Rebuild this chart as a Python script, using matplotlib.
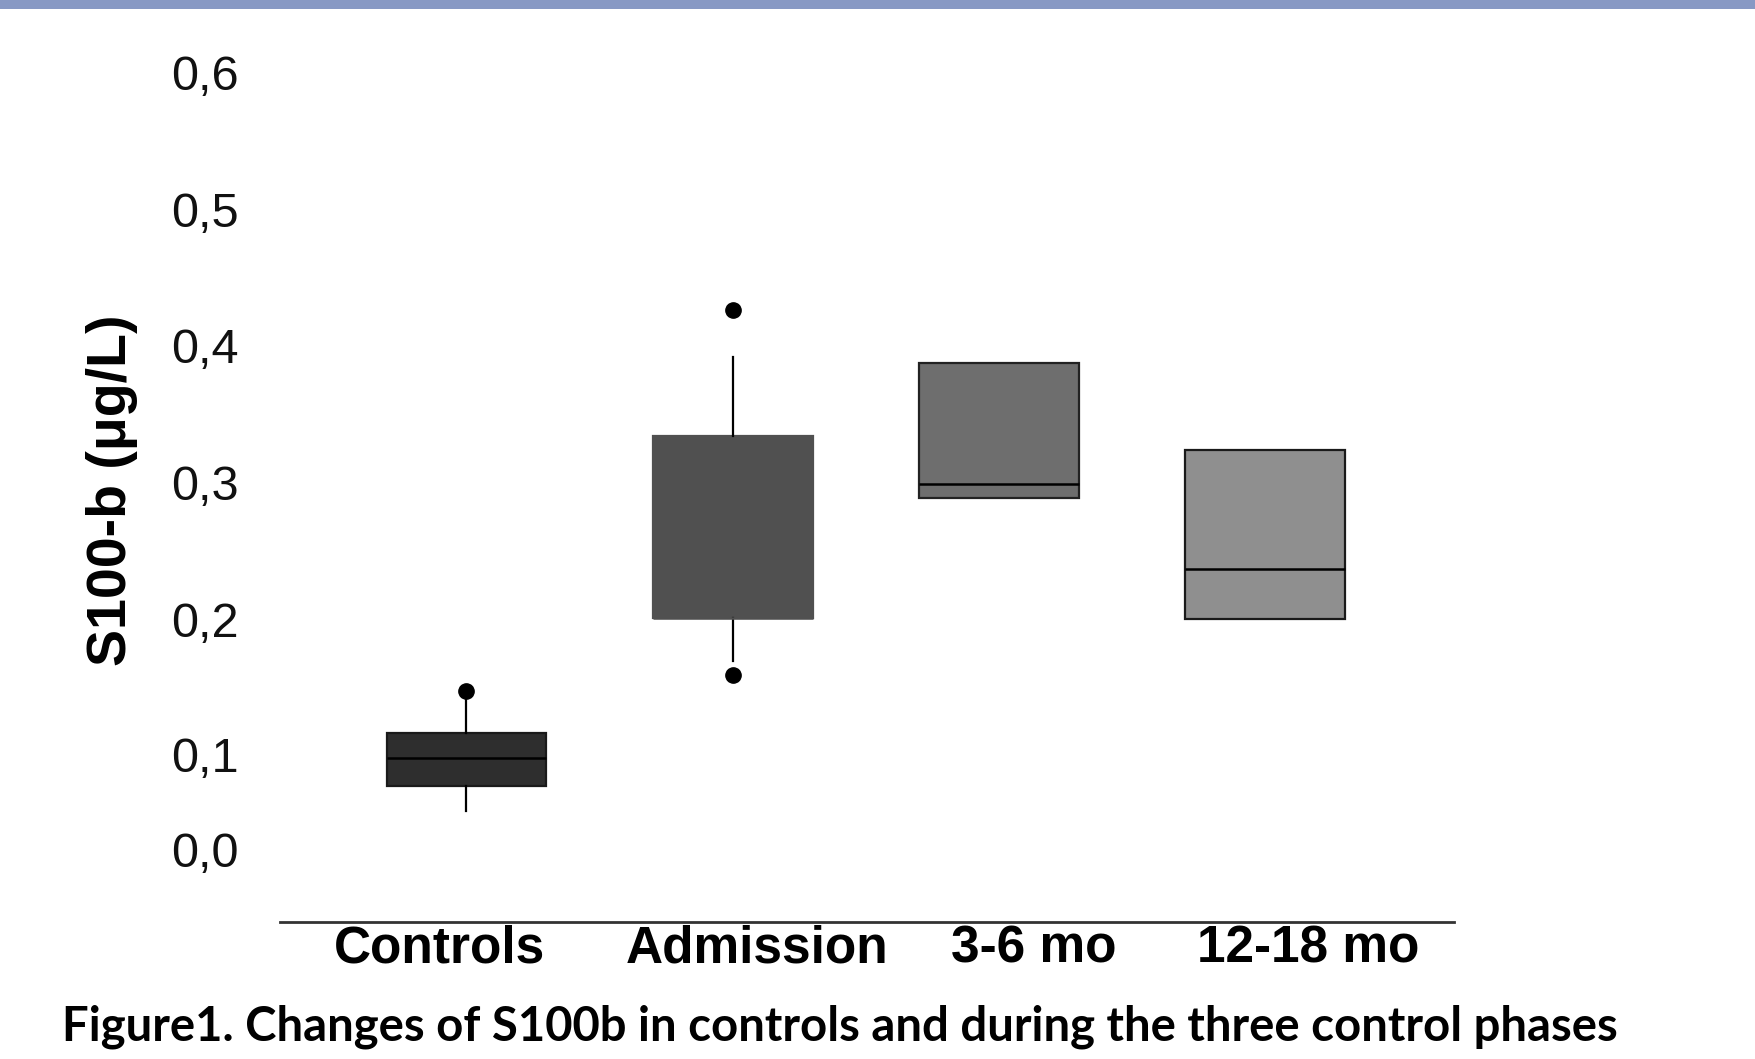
import matplotlib
matplotlib.use("Agg")
import matplotlib.pyplot as plt
from matplotlib.patches import Rectangle

# values (S100-b, ug/L)
groups = ["Controls", "Admission", "3-6 mo", "12-18 mo"]
q1 = [0.077, 0.201, 0.290, 0.200]
med = [0.0975, 0.201, 0.300, 0.237]
q3 = [0.116, 0.3355, 0.390, 0.3256]
whislo = [0.058, 0.169, 0.290, 0.200]
whishi = [0.143, 0.394, 0.390, 0.3256]
outliers = [[0.147], [0.429, 0.159], [], []]

# the original tick labels are not placed quite on the data scale
ytick_vals = [0.03, 0.1, 0.2, 0.3015, 0.4025, 0.5035, 0.605]
ytick_labels = ["0,0", "0,1", "0,2", "0,3", "0,4", "0,5", "0,6"]

fills = ["#2e2e2e", "#505050", "#6e6e6e", "#8f8f8f"]
edges = ["#1a1a1a", "#505050", "#222222", "#1a1a1a"]
label_shift = [-0.10, 0.09, 0.13, 0.16]

plt.rcParams["font.family"] = ["Liberation Sans", "DejaVu Sans"]

fig = plt.figure(figsize=(17.56, 10.59), dpi=100)
ax = fig.add_axes([0.1595, 0.1294, 0.6686, 0.8215])

stats = []
for i, g in enumerate(groups):
    stats.append(dict(label=g, q1=q1[i], med=med[i], q3=q3[i],
                      whislo=whislo[i], whishi=whishi[i], fliers=outliers[i]))

pos = list(range(1, len(groups) + 1))
bp = ax.bxp(stats, positions=pos, widths=0.6, patch_artist=True, showcaps=False,
            boxprops=dict(linewidth=1.6),
            whiskerprops=dict(color="black", linewidth=1.6),
            medianprops=dict(color="black", linewidth=1.8),
            flierprops=dict(marker="o", markerfacecolor="black",
                            markeredgecolor="black", markersize=11))
for i, b in enumerate(bp["boxes"]):
    b.set_facecolor(fills[i])
    b.set_edgecolor(edges[i])
# admission has no visible median line
bp["medians"][1].set_color(fills[1])

ax.set_xlim(0.30, 4.71)
ax.set_ylim(-0.024, 0.62)

for s in ["top", "right", "left"]:
    ax.spines[s].set_visible(False)
ax.spines["bottom"].set_linewidth(2)
ax.spines["bottom"].set_color("#333333")

ax.set_yticks(ytick_vals)
ax.set_yticklabels(ytick_labels, fontsize=35, color="#111111")
ax.tick_params(axis="y", length=0, pad=30)

ax.set_xticks([p + d for p, d in zip(pos, label_shift)])
ax.set_xticklabels(groups, fontsize=37, fontweight="bold")
ax.tick_params(axis="x", length=0, pad=2)

fig.text(112 / 1756, 1 - 490 / 1059, "S100-b (\u03bcg/L)", rotation=90,
         ha="center", va="center", fontsize=40, fontweight="bold")

fig.text(62 / 1756, 1 - 1027 / 1059,
         "Figure1. Changes of S100b in controls and during the three control phases",
         ha="left", va="center", fontsize=34, fontweight="bold", family="Lato")

# blue band along the top edge
fig.patches.append(Rectangle((0, 1 - 9 / 1059), 1, 9 / 1059, transform=fig.transFigure,
                             facecolor="#8899c4", edgecolor="none"))

fig.savefig("out.png", dpi=100)
